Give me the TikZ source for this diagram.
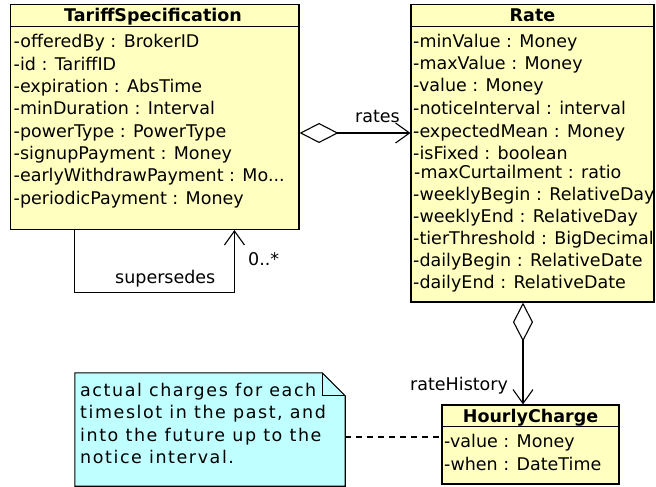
\documentclass[tikz,border=0pt]{standalone}
\usepackage{fontspec}
\setmainfont{DejaVu Sans}
\usetikzlibrary{arrows.meta}
\definecolor{umlyellow}{HTML}{FFFFC0}
\definecolor{notecyan}{HTML}{C0FFFF}
\tikzstyle{classbox} = [draw, fill=umlyellow, line width=1.1pt, inner sep=0pt]
\tikzstyle{attr} = [anchor=base west, inner sep=0pt]
\tikzstyle{notetext} = [anchor=base west, inner sep=0pt, font=\fontsize{17.5}{22}\selectfont\addfontfeature{LetterSpace=9}]
\tikzstyle{title} = [anchor=base, inner sep=0pt, font=\fontsize{17.5}{22}\selectfont\bfseries]
\tikzstyle{assoc} = [draw, line width=1.1pt, -{Straight Barb[length=14pt,width=20pt]}]
\tikzstyle{aggr} = [draw, line width=1.1pt, {Diamond[fill=white,length=39pt,width=20pt]}-{Straight Barb[length=14pt,width=20pt]}]

\begin{document}
\begin{tikzpicture}[x=1pt,y=-1pt,every node/.style={font=\fontsize{17.5}{22}\selectfont}]
    \useasboundingbox (0,0) rectangle (656,487);

        % classes
        \node[classbox, minimum width=288.5pt, minimum height=225pt] (TS) at (154.75,117) {};
        \draw[line width=1.1pt] ([yshift=-23pt]TS.north west) -- ([yshift=-23pt]TS.north east);
        \node[title] (TStitle) at (153,22) {TariffSpecification};
        \node[attr] (TSofferedBy) at (13.5,48) {-offeredBy : BrokerID};
        \node[attr] (TSid) at (13.5,70.3) {-id : TariffID};
        \node[attr] (TSexpiration) at (13.5,92.6) {-expiration : AbsTime};
        \node[attr] (TSminDuration) at (13.5,114.9) {-minDuration : Interval};
        \node[attr] (TSpowerType) at (13.5,137.2) {-powerType : PowerType};
        \node[attr] (TSsignup) at (13.5,159.5) {-signupPayment : Money};
        \node[attr] (TSearly) at (13.5,181.8) {-earlyWithdrawPayment : Mo...};
        \node[attr] (TSperiodic) at (13.5,204.1) {-periodicPayment : Money};

        \node[classbox, minimum width=243pt, minimum height=297.5pt] (R) at (532.5,153.25) {};
        \draw[line width=1.1pt] ([yshift=-23pt]R.north west) -- ([yshift=-23pt]R.north east);
        \node[title] (Rtitle) at (532.5,22) {Rate};
        \node[attr] (RminValue) at (413,47.5) {-minValue : Money};
        \node[attr] (RmaxValue) at (413,69.5) {-maxValue : Money};
        \node[attr] (Rvalue) at (413,92) {-value : Money};
        \node[attr] (RnoticeInterval) at (413,114) {-noticeInterval : interval};
        \node[attr] (RexpectedMean) at (413,137) {-expectedMean : Money};
        \node[attr] (RisFixed) at (413,159) {-isFixed : boolean};
        \node[attr] (RmaxCurtailment) at (414,178) {-maxCurtailment : ratio};
        \node[attr] (RweeklyBegin) at (413,200) {-weeklyBegin : RelativeDay};
        \node[attr] (RweeklyEnd) at (413,222) {-weeklyEnd : RelativeDay};
        \node[attr] (RtierThreshold) at (413,244) {-tierThreshold : BigDecimal};
        \node[attr] (RdailyBegin) at (413,266) {-dailyBegin : RelativeDate};
        \node[attr] (RdailyEnd) at (413,288) {-dailyEnd : RelativeDate};

        \node[classbox, minimum width=177pt, minimum height=79pt] (HC) at (530.5,444.5) {};
        \draw[line width=1.1pt] ([yshift=-22pt]HC.north west) -- ([yshift=-22pt]HC.north east);
        \node[title] (HCtitle) at (530.5,422) {HourlyCharge};
        \node[attr] (HCvalue) at (444,447) {-value : Money};
        \node[attr] (HCwhen) at (444,470) {-when : DateTime};

        % note
        \node[minimum width=270pt, minimum height=113pt, inner sep=0pt] (N) at (210,429.5) {};
        \filldraw[fill=notecyan, line width=1.1pt] (N.south west) -- (N.north west) -- ([xshift=-23pt]N.north east)
            -- ([yshift=-23pt]N.north east) -- (N.south east) -- cycle;
        \draw[line width=1.1pt] ([xshift=-23pt]N.north east) |- ([yshift=-23pt]N.north east);
        \node[notetext] (Nl1) at (80,396) {actual charges for each};
        \node[notetext] (Nl2) at (80,418.5) {timeslot in the past, and};
        \node[notetext] (Nl3) at (80,441) {into the future up to the};
        \node[notetext] (Nl4) at (80,463.5) {notice interval.};

        % connectors
        \coordinate (ratesA) at ([yshift=-16pt]TS.east);
        \draw[aggr] (ratesA) -- (ratesA -| R.west);
        \node[attr] (rateslbl) at (355,122) {rates};

        \coordinate (supA) at ([xshift=64.5pt]TS.south west);
        \coordinate (supB) at ([xshift=224.5pt]TS.south west);
        \draw[assoc] (supA) -- ++(0,62.5) -| (supB);
        \node[attr] (suplbl) at (115,283) {supersedes};
        \node[attr] (multlbl) at (248,265) {0..*};

        \coordinate (rhA) at ([xshift=-9.5pt]R.south);
        \draw[aggr] (rhA) -- (rhA |- HC.north);
        \node[attr] (rhlbl) at (410,390) {rateHistory};

        \coordinate (dashA) at ([yshift=-7.5pt]N.east);
        \draw[line width=1.1pt, dash pattern=on 6pt off 5pt] (dashA) -- (dashA -| HC.west);

    \end{tikzpicture}
\end{document}
